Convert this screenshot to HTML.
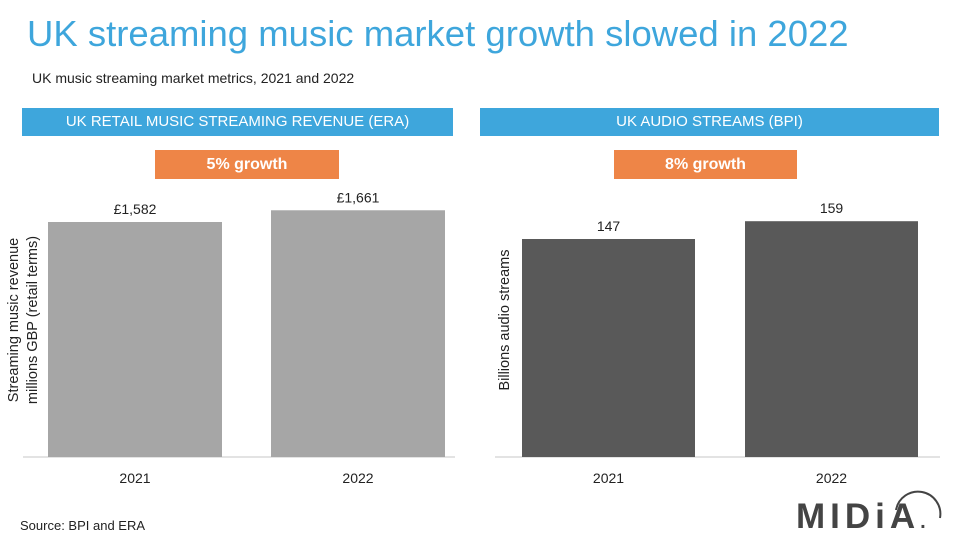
<!DOCTYPE html>
<html><head><meta charset="utf-8">
<style>
body{margin:0;width:960px;height:540px;background:#fff;font-family:"Liberation Sans",Arial,sans-serif;position:relative;overflow:hidden}
.a{position:absolute}
.hdr{background:#3ea6dc;color:#fff;font-size:15px;text-align:center;line-height:28px}
.gr{background:#ee8547;color:#fff;font-size:16px;font-weight:bold;text-align:center;line-height:29px}
</style></head><body>
<div class="a" style="left:27px;top:13px;font-size:36.5px;color:#3ea6dc">UK streaming music market growth slowed in 2022</div>
<div class="a" style="left:32px;top:70px;font-size:14px;color:#222">UK music streaming market metrics, 2021 and 2022</div>
<div class="a hdr" style="left:22px;top:108px;width:431px;height:28px">UK RETAIL MUSIC STREAMING REVENUE (ERA)</div>
<div class="a hdr" style="left:480px;top:108px;width:459px;height:28px">UK AUDIO STREAMS (BPI)</div>
<div class="a gr" style="left:155px;top:150px;width:184px;height:29px">5% growth</div>
<div class="a gr" style="left:614px;top:150px;width:183px;height:29px">8% growth</div>
<div class="a" style="left:20px;top:518px;font-size:13px;color:#222">Source: BPI and ERA</div>
<div class="a" style="left:796px;top:497px;font-size:35px;font-weight:bold;letter-spacing:5px;color:#444">MIDiA<span style="font-size:20px">.</span></div>
<svg class="a" style="left:888px;top:488px" width="60" height="50"><path d="M8 22 A22 22 0 0 1 52 30" fill="none" stroke="#444" stroke-width="2"/></svg>
<svg id="svg" class="a" style="left:0;top:0" width="960" height="540"></svg>
<script>
const revCats=["2021","2022"];
const revVals=[1582,1661];
const revLabels=["£1,582","£1,661"];
const strCats=["2021","2022"];
const strVals=[147,159];
const strLabels=["147","159"];
const NS="http://www.w3.org/2000/svg";
const svg=document.getElementById("svg");
function mk(t,a,txt){const e=document.createElementNS(NS,t);for(const k in a)e.setAttribute(k,a[k]);if(txt!==undefined)e.textContent=txt;svg.appendChild(e);return e;}
const base=457;
function panel(cats,vals,labels,x0,x1,bx,bw,scale,color,pfx,title){
  const ax=mk("line",{x1:x0,x2:x1,y1:base,y2:base,stroke:"#e3e3e3","stroke-width":2});
  
  
  cats.forEach((c,i)=>{
    const h=vals[i]*scale;const x=bx[i];
    const r=mk("rect",{x:x,y:base-h,width:bw,height:h,fill:color});
    
    
    const v=mk("text",{x:x+bw/2,y:base-h-8,"text-anchor":"middle","font-size":14,fill:"#222"},labels[i]);
    
    
    const t=mk("text",{x:x+bw/2,y:483,"text-anchor":"middle","font-size":14,fill:"#222"},c);
    
    
  });
  title.forEach((s,j)=>{
    const tx=title.length==2?(j==0?18:37):509;
    const yt=mk("text",{x:tx,y:320,"text-anchor":"middle","font-size":14.5,fill:"#222",transform:"rotate(-90 "+tx+" 320)"},s);
    
    
  });
}
panel(revCats,revVals,revLabels,23,455,[48,271],174,235/1582,"#a6a6a6","revenue",["Streaming music revenue","millions GBP (retail terms)"]);
panel(strCats,strVals,strLabels,495,940,[522,745],173,218/147,"#595959","streams",["Billions audio streams"]);
</script>
</body></html>
